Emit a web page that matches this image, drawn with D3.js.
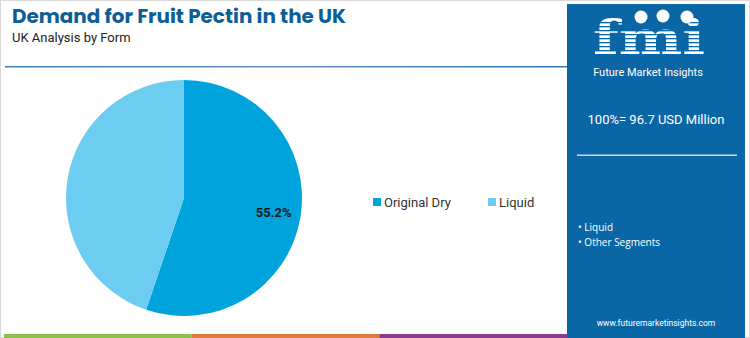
<!DOCTYPE html>
<html><head><meta charset="utf-8">
<script src="https://cdn.jsdelivr.net/npm/d3@7"></script>
<style>body{margin:0;background:#fff}svg{display:block}</style>
</head><body>
<svg id="c" width="750" height="338"></svg>
<script>
const categories = ["Original Dry", "Liquid"];
const values = [55.2, 44.8];
const colors = ["#00a3dc", "#6ccdf0"];
const title = "Demand for Fruit Pectin in the UK";
const subtitle = "UK Analysis by Form";
const totalLabel = "100%= 96.7 USD Million";
const segments = ["Liquid", "Other Segments"];
const stripes = ["#8cbf4b", "#e07b3f", "#8b3b8f"];

const svg = d3.select("#c");
svg.append("rect").attr("x",0.5).attr("y",0.5).attr("width",749).attr("height",337)
  .attr("fill","#fff").attr("stroke","#d9d9d9");

svg.append("text").attr("x",12).attr("y",23).text(title)
  .attr("font-family","Poppins, Roboto, sans-serif").attr("font-weight",700)
  .attr("font-size",20).attr("fill","#0d5e96").attr("textLength",334).attr("lengthAdjust","spacingAndGlyphs");
svg.append("text").attr("x",12).attr("y",42).text(subtitle)
  .attr("font-family","Roboto, sans-serif").attr("font-size",13).attr("fill","#222");

const grad = svg.append("defs").append("linearGradient").attr("id","lg");
grad.append("stop").attr("offset","0%").attr("stop-color","#3f7fb8");
grad.append("stop").attr("offset","50%").attr("stop-color","#5f95c6");
grad.append("stop").attr("offset","100%").attr("stop-color","#2f73b0");
svg.append("rect").attr("x",5).attr("y",66).attr("width",562).attr("height",1.5).attr("fill","url(#lg)");

const sx = d3.scaleBand().domain(d3.range(stripes.length)).range([4,567]);
svg.selectAll(".st").data(stripes).join("rect").attr("x",(d,i)=>sx(i)).attr("y",334)
  .attr("width",sx.bandwidth()).attr("height",4).attr("fill",d=>d);

const cx=184, cy=198, r=118;
const pie = d3.pie().sort(null).value(d=>d)(values);
const arc = d3.arc().innerRadius(0).outerRadius(r);
const g = svg.append("g").attr("transform",`translate(${cx},${cy})`);
g.selectAll("path").data(pie).join("path").attr("d",arc).attr("fill",(d,i)=>colors[i]);
const la = d3.arc().innerRadius(r*0.77).outerRadius(r*0.77);
g.append("text").datum(pie[0]).attr("transform",d=>`translate(${la.centroid(d)})`)
  .attr("text-anchor","middle").attr("dy","0.35em").text(d=>d.data.toFixed(1)+"%")
  .attr("font-family","Roboto, sans-serif").attr("font-weight",700).attr("font-size",13).attr("fill","#1a1a1a");

const lx = [373, 488];
categories.forEach((c,i)=>{
  svg.append("rect").attr("x",lx[i]).attr("y",198).attr("width",8).attr("height",8).attr("fill",colors[i]);
  svg.append("text").attr("x",lx[i]+11).attr("y",206.5).text(c)
    .attr("font-family","Roboto, sans-serif").attr("font-size",13).attr("fill","#333");
});

svg.append("rect").attr("x",567).attr("y",4).attr("width",178).attr("height",334).attr("fill","#0b66a6");
const lg = svg.append("g");
lg.append("text").attr("x",649).attr("y",54).attr("text-anchor","middle").text("fmi")
  .attr("font-family","DejaVu Serif, serif").attr("font-weight",700).attr("font-size",46).attr("fill","#fff")
  .attr("textLength",112).attr("lengthAdjust","spacingAndGlyphs");
for(let y=22;y<55;y+=4){ lg.append("rect").attr("x",590).attr("y",y).attr("width",122).attr("height",1.3).attr("fill","#0b66a6"); }
[[641,17],[663,16],[687,17]].forEach(p=>lg.append("circle").attr("cx",p[0]).attr("cy",p[1]).attr("r",6.5).attr("fill","#fff"));
lg.append("text").attr("x",648).attr("y",76).attr("text-anchor","middle").text("Future Market Insights")
  .attr("font-family","Roboto, sans-serif").attr("font-size",11).attr("fill","#fff");

svg.append("text").attr("x",656).attr("y",124).attr("text-anchor","middle").text(totalLabel)
  .attr("font-family","Roboto, sans-serif").attr("font-size",13).attr("fill","#fff");
svg.append("rect").attr("x",577).attr("y",154.5).attr("width",160).attr("height",1.5).attr("fill","#c8dcee");
segments.forEach((s,i)=>{
  svg.append("text").attr("x",578).attr("y",231+i*15).text("• "+s)
    .attr("font-family","Open Sans, sans-serif").attr("font-size",10).attr("fill","#fff");
});
svg.append("text").attr("x",656).attr("y",326).attr("text-anchor","middle").text("www.futuremarketinsights.com")
  .attr("font-family","Roboto, sans-serif").attr("font-size",8.5).attr("fill","#fff");
</script>
</body></html>
